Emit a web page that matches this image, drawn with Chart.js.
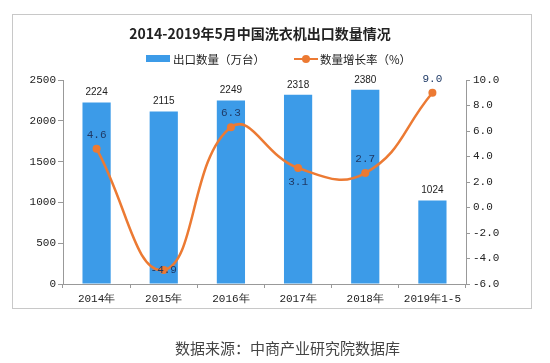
<!DOCTYPE html>
<html><head><meta charset="utf-8">
<script src="https://cdn.jsdelivr.net/npm/chart.js@4"></script>
<style>
html,body{margin:0;padding:0;background:#fff;width:550px;height:363px;overflow:hidden;font-family:"Noto Sans CJK SC",sans-serif;}
#box{position:absolute;left:12px;top:14px;width:520px;height:295px;border:1px solid #c8c8c8;box-sizing:border-box;}
#wrap{position:absolute;left:0;top:0;width:550px;height:363px;}
#title{position:absolute;left:0;width:520px;top:23px;text-align:center;font-size:14px;font-weight:bold;color:#222;line-height:20px;}
#legend{position:absolute;top:49px;left:146px;font-size:11.5px;color:#222;line-height:16px;white-space:nowrap;}
#legend span{display:inline-block;vertical-align:middle;}
.sw{width:24px;height:7px;background:#3c9be8;margin-right:3px;}
.ln{position:relative;width:24px;height:10px;margin-right:2px;}
.ln:before{content:"";position:absolute;left:0;top:4px;width:24px;height:2.5px;background:#ec7a33;}
.ln:after{content:"";position:absolute;left:8px;top:1px;width:8px;height:8px;border-radius:50%;background:#ec7a33;}
#footer{position:absolute;top:338px;left:0;width:575px;text-align:center;font-size:15px;color:#444;line-height:20px;}
</style></head>
<body>
<div id="box"></div>
<div id="wrap"><canvas id="c" width="550" height="363"></canvas></div>
<div id="title">2014-2019年5月中国洗衣机出口数量情况</div>
<div id="legend"><span class="sw"></span><span>出口数量（万台）</span><span style="width:29px"></span><span class="ln"></span><span>数量增长率（%）</span></div>
<div id="footer">数据来源：中商产业研究院数据库</div>
<script>
const categories = ["2014年","2015年","2016年","2017年","2018年","2019年1-5"];
const exportVolume = [2224, 2115, 2249, 2318, 2380, 1024];
const growthRate = [4.6, -4.9, 6.3, 3.1, 2.7, 9.0];
const growthLabelPos = ["above","center","above","below","above","above"];
const leftTicks = [0, 500, 1000, 1500, 2000, 2500];
const rightTicks = [-6, -4, -2, 0, 2, 4, 6, 8, 10];

const labelPlugin = {
  id: 'valueLabels',
  afterDatasetsDraw(chart) {
    const ctx = chart.ctx;
    ctx.save();
    ctx.textAlign = 'center';
    ctx.textBaseline = 'middle';
    const barMeta = chart.getDatasetMeta(0);
    ctx.font = '10px "Liberation Sans", sans-serif';
    ctx.fillStyle = '#222';
    barMeta.data.forEach((el, i) => {
      ctx.fillText(String(exportVolume[i]), el.x, el.y - 10);
    });
    const lineMeta = chart.getDatasetMeta(1);
    ctx.font = '11px "Liberation Mono", monospace';
    ctx.fillStyle = '#1f3a66';
    lineMeta.data.forEach((el, i) => {
      const p = growthLabelPos[i];
      const dy = p === 'above' ? -14 : (p === 'below' ? 14 : 0);
      ctx.fillText(growthRate[i].toFixed(1), el.x, el.y + dy);
    });
    ctx.restore();
  }
};

new Chart(document.getElementById('c'), {
  type: 'bar',
  data: {
    labels: categories,
    datasets: [
      {
        type: 'bar', label: '出口数量（万台）', data: exportVolume,
        backgroundColor: '#3c9be8', yAxisID: 'y',
        barPercentage: 0.42, categoryPercentage: 1, order: 2
      },
      {
        type: 'line', label: '数量增长率（%）', data: growthRate,
        borderColor: '#ec7a33', backgroundColor: '#ec7a33', borderWidth: 2.5,
        pointRadius: 4, pointBackgroundColor: '#ec7a33', pointBorderWidth: 0,
        tension: 0.45, yAxisID: 'y1', order: 1
      }
    ]
  },
  options: {
    responsive: false, animation: false,
    layout: { padding: { top: 80, left: 0, right: 0, bottom: 0 } },
    plugins: { legend: { display: false }, title: { display: false }, tooltip: { enabled: false } },
    scales: {
      x: {
        offset: true,
        grid: { display: true, drawOnChartArea: false, drawTicks: true, tickLength: 4, offset: true, color: '#999' },
        border: { display: true, color: '#999' },
        ticks: { color: '#222', font: { family: '"Liberation Mono", monospace', size: 11 }, padding: 4, maxRotation: 0, autoSkip: false },
        afterFit(s) { s.height = 79; }
      },
      y: {
        position: 'left', min: 0, max: 2500,
        afterBuildTicks(s) { s.ticks = leftTicks.map(v => ({ value: v })); },
        grid: { drawOnChartArea: false, drawTicks: true, tickLength: 5, color: '#999' },
        border: { display: true, color: '#999' },
        ticks: { color: '#222', font: { family: '"Liberation Mono", monospace', size: 11 }, padding: 2, callback: v => String(v) },
        afterFit(s) { s.width = 63; }
      },
      y1: {
        position: 'right', min: -6, max: 10,
        afterBuildTicks(s) { s.ticks = rightTicks.map(v => ({ value: v })); },
        grid: { drawOnChartArea: false, drawTicks: true, tickLength: 4, color: '#999' },
        border: { display: true, color: '#999' },
        ticks: { color: '#222', font: { family: '"Liberation Mono", monospace', size: 11 }, padding: 3, callback: v => Number(v).toFixed(1) },
        afterFit(s) { s.width = 84; }
      }
    }
  },
  plugins: [labelPlugin]
});
</script>
</body></html>
